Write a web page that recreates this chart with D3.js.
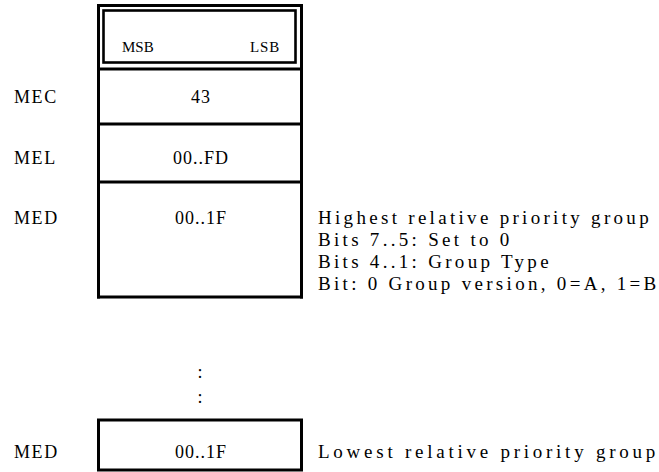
<!DOCTYPE html>
<html><head><meta charset="utf-8">
<script src="https://cdn.jsdelivr.net/npm/d3@7"></script>
<style>
html,body{margin:0;padding:0;background:#fff;}
</style></head>
<body><svg id="c" width="659" height="472"></svg>
<script>
// ---- data ----
const headerLabels = ["MSB", "LSB"];
const fieldNames = ["MEC", "MEL", "MED"];
const fieldValues = ["43", "00..FD", "00..1F"];
const firstGroupNotes = ["Highest relative priority group", "Bits 7..5: Set to 0", "Bits 4..1: Group Type", "Bit: 0 Group version, 0=A, 1=B"];
const lastName = "MED";
const lastValue = "00..1F";
const lastNote = "Lowest relative priority group";
const ellipsis = [":", ":"];

const FONT = "'Liberation Serif', 'Times New Roman', Times, 'DejaVu Serif', serif";
const svg = d3.select("#c").attr("font-family", FONT);
const boxL = 98.5, boxR = 301.5;
const x = d3.scaleLinear().domain([0, 1]).range([boxL, boxR]);
const fs = 18, ls = 1.6, noteFs = 19, noteLs = 3.3, lastLs = 3.75;

const rowEdges = [5.5, 69, 124, 182, 297];
const line = (x1,y1,x2,y2,w) => svg.append("line").attr("x1",x1).attr("y1",y1).attr("x2",x2).attr("y2",y2).attr("stroke","#000").attr("stroke-width",w);

line(x(0), rowEdges[0]-1.5, x(0), rowEdges[4]+1.5, 3);
line(x(1), rowEdges[0]-1.5, x(1), rowEdges[4]+1.5, 3);
rowEdges.forEach(e => line(x(0)-1.5, e, x(1)+1.5, e, 3));

svg.append("rect").attr("x",103.5).attr("y",10.5).attr("width",192).attr("height",52)
  .attr("fill","none").attr("stroke","#000").attr("stroke-width",2.6);
svg.append("text").attr("x",122).attr("y",52).attr("font-size",15).text(headerLabels[0]);
svg.append("text").attr("x",280).attr("y",52).attr("font-size",15).attr("text-anchor","end").attr("letter-spacing",0.8).text(headerLabels[1]);

const txt = (sel) => sel.attr("font-family", FONT).attr("fill","#000");

const yRow = d3.scalePoint().domain(fieldNames.map((d,i)=>i)).range([103, 224]);
svg.selectAll("text.name").data(fieldNames).join("text").attr("class","name")
  .attr("x",14).attr("y",(d,i)=>yRow(i)).attr("font-size",fs).attr("letter-spacing",ls).text(d=>d).call(txt);
svg.selectAll("text.val").data(fieldValues).join("text").attr("class","val")
  .attr("x",x(0.5)+1).attr("y",(d,i)=>yRow(i)).attr("text-anchor","middle").attr("font-size",fs).attr("letter-spacing",1).text(d=>d).call(txt);

const yNote = d3.scaleLinear().domain([0,1]).range([224, 246]);
svg.selectAll("text.note").data(firstGroupNotes).join("text").attr("class","note")
  .attr("x",318).attr("y",(d,i)=>yNote(i)).attr("font-size",noteFs).attr("letter-spacing",noteLs).text(d=>d).call(txt);

svg.selectAll("text.dots").data(ellipsis).join("text").attr("class","dots")
  .attr("x",x(0.5)).attr("y",(d,i)=>378+i*25).attr("text-anchor","middle").attr("font-size",fs).text(d=>d).call(txt);

svg.append("rect").attr("x",x(0)).attr("y",420).attr("width",x(1)-x(0)).attr("height",50)
  .attr("fill","none").attr("stroke","#000").attr("stroke-width",3);
svg.append("text").attr("x",14).attr("y",458).attr("font-size",fs).attr("letter-spacing",ls).text(lastName).call(txt);
svg.append("text").attr("x",x(0.5)+1).attr("y",458).attr("text-anchor","middle").attr("font-size",fs).attr("letter-spacing",1).text(lastValue).call(txt);
svg.append("text").attr("x",318).attr("y",458).attr("font-size",noteFs).attr("letter-spacing",lastLs).text(lastNote).call(txt);
svg.selectAll("text").attr("font-family", FONT);
</script></body></html>
